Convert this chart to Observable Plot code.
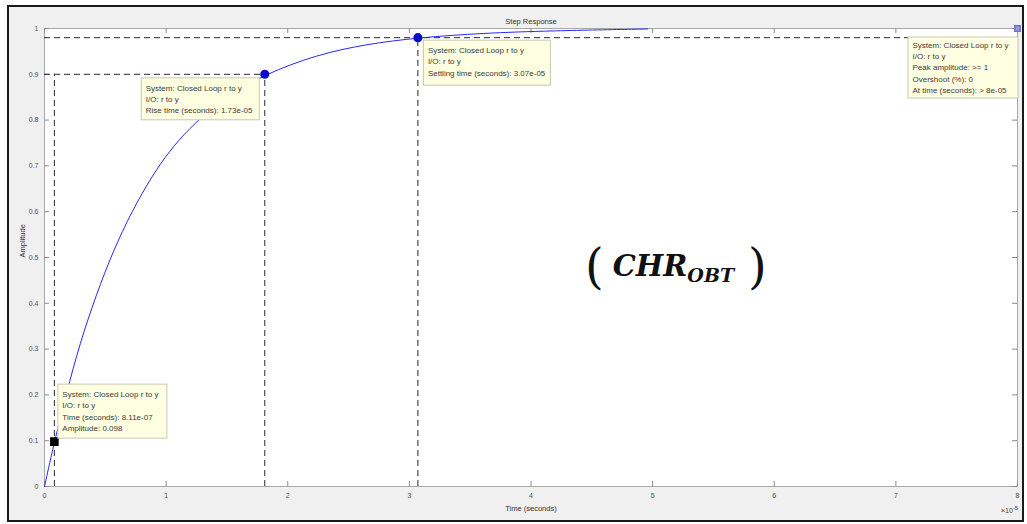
<!DOCTYPE html>
<html>
<head>
<meta charset="utf-8">
<script src="https://cdn.jsdelivr.net/npm/d3@7"></script>
<script src="https://cdn.jsdelivr.net/npm/@observablehq/plot@0.6"></script>
<style>
html, body { margin: 0; padding: 0; background: #fff; }
#wrap { position: relative; width: 1027px; height: 524px; overflow: hidden; font-family: "Liberation Sans", Arial, sans-serif; }
#border { position: absolute; left: 7px; top: 5px; width: 1013px; height: 513px; border: 2px solid #1a1a1a; background: #f0f0f0; }
#chart { position: absolute; left: 0; top: 0; }
#expo { position: absolute; left: 1001px; top: 505px; font-size: 7px; color: #444; }
#expo sup { font-size: 6px; }
#chr { position: absolute; left: 585px; top: 238px; display: flex; align-items: center; color: #111; white-space: nowrap; }
#chr .par { font-family: "DejaVu Serif", serif; font-size: 48px; font-weight: 300; }
#chr .main { font-family: "DejaVu Serif", serif; font-weight: bold; font-style: italic; font-size: 29px; margin-left: 9px; }
#chr .sub { font-family: "DejaVu Serif", serif; font-weight: bold; font-style: italic; font-size: 19px; position: relative; top: 9px; margin-right: 14px; }
</style>
</head>
<body>
<div id="wrap">
  <div id="border"></div>
  <div id="chart"></div>
  <div id="expo">×10<sup>-5</sup></div>
  <div id="chr"><span class="par">(</span><span class="main">CHR</span><span class="sub">OBT</span><span class="par">)</span></div>
</div>
<script>
// Step response (time in units of 1e-5 s)
const timeE5 = [0, 0.0811, 0.21, 0.32, 0.46, 0.60, 0.76, 0.93, 1.06, 1.23, 1.50, 1.811, 2.24, 2.65, 3.07, 3.61, 4.16, 4.96];
const amplitude = [0, 0.098, 0.235, 0.337, 0.444, 0.536, 0.622, 0.697, 0.743, 0.793, 0.853, 0.9, 0.943, 0.966, 0.98, 0.99, 0.995, 0.999];

// Characteristic points
const riseStartT = 0.0811, riseStartA = 0.098;
const riseEndT = 1.811, riseLevel = 0.9;
const settleT = 3.07, settleLevel = 0.98;
const peakT = 8, peakA = 1;

// Axis ticks
const xTicks = [0, 1, 2, 3, 4, 5, 6, 7, 8];
const xTickLabels = ["0", "1", "2", "3", "4", "5", "6", "7", "8"];
const yTicks = [0, 0.1, 0.2, 0.3, 0.4, 0.5, 0.6, 0.7, 0.8, 0.9, 1];
const yTickLabels = ["0", "0.1", "0.2", "0.3", "0.4", "0.5", "0.6", "0.7", "0.8", "0.9", "1"];

// Texts
const titleText = "Step Response";
const xLabel = "Time (seconds)";
const yLabel = "Amplitude";
const tipStart = ["System: Closed Loop r to y", "I/O: r to y", "Time (seconds): 8.11e-07", "Amplitude: 0.098"];
const tipRise = ["System: Closed Loop r to y", "I/O: r to y", "Rise time (seconds): 1.73e-05"];
const tipSettle = ["System: Closed Loop r to y", "I/O: r to y", "Settling time (seconds): 3.07e-05"];
const tipPeak = ["System: Closed Loop r to y", "I/O: r to y", "Peak amplitude: >= 1", "Overshoot (%): 0", "At time (seconds): > 8e-05"];

// ---- layout / style (pixels) ----
const W = 1027, H = 524, ML = 44, MR = 10, MT = 28, MB = 38;
const frameW = W - ML - MR, frameH = H - MT - MB, tick = 5;
const dash = {stroke: "#2a2a2a", strokeWidth: 1, strokeDasharray: "6,4"};
const tickStyle = {stroke: "#8a8a8a", strokeWidth: 1};

// data tip boxes: offsets in pixels from their marker
const tipDefs = [
  {t: riseStartT, a: riseStartA, lines: tipStart,  box: [4, 113, -57, -3], tx: 8,    ty: -47, lh: 11.2},
  {t: riseEndT,   a: riseLevel,  lines: tipRise,   box: [-123, -5, 4, 46], tx: -119, ty: 14,  lh: 11.2},
  {t: settleT,    a: settleLevel, lines: tipSettle, box: [6, 133, 3, 48],  tx: 10,   ty: 13,  lh: 11.2},
  {t: peakT,      a: peakA,      lines: tipPeak,   box: [-109, 1, 9, 70],  tx: -105, ty: 17,  lh: 11.2}
];

const curve = timeE5.map((t, i) => ({t, a: amplitude[i]}));

const tipMarks = tipDefs.flatMap(d => {
  const [l, r, top, bottom] = d.box;
  const pt = [{t: d.t, a: d.a}];
  return [
    Plot.rect(pt, {x1: "t", x2: "t", y1: "a", y2: "a",
      insetLeft: l, insetRight: -r, insetTop: top, insetBottom: -bottom,
      fill: "#ffffe1", stroke: "#c8c8b0", strokeWidth: 1}),
    ...d.lines.map((line, i) => Plot.text(pt, {x: "t", y: "a", text: () => line,
      dx: d.tx, dy: d.ty + i * d.lh, textAnchor: "start", fontSize: 8, fill: "#3a3a3a",
      fontFamily: "Liberation Sans, Arial, sans-serif"}))
  ];
});

const plot = Plot.plot({
  width: W, height: H,
  marginLeft: ML, marginRight: MR, marginTop: MT, marginBottom: MB,
  x: {domain: [0, 8]},
  y: {domain: [0, 1]},
  style: {background: "transparent", fontFamily: "Liberation Sans, Arial, sans-serif", fontSize: "7px", color: "#555"},
  marks: [
    Plot.frame({fill: "white", stroke: "#a8a8a8"}),
    Plot.axisX(xTicks, {anchor: "bottom", tickSize: -tick, tickPadding: 12, stroke: "#8a8a8a", fill: "#555", tickFormat: d => xTickLabels[xTicks.indexOf(d)]}),
    Plot.axisY(yTicks, {anchor: "left", tickSize: -tick, tickPadding: 11, stroke: "#8a8a8a", fill: "#555", tickFormat: d => yTickLabels[yTicks.indexOf(d)]}),
    // inward ticks on the top and right edges of the box
    Plot.tickX(xTicks, {x: d => d, insetBottom: frameH - tick, ...tickStyle}),
    Plot.tickY(yTicks, {y: d => d, insetLeft: frameW - tick, ...tickStyle}),
    // characteristic dashed guides
    Plot.ruleX([{x: riseStartT, y2: riseLevel}, {x: riseEndT, y2: riseLevel}, {x: settleT, y2: settleLevel}], {x: "x", y1: 0, y2: "y2", ...dash}),
    Plot.ruleY([{y: riseLevel, x2: riseEndT}, {y: settleLevel, x2: peakT}], {y: "y", x1: 0, x2: "x2", ...dash}),
    // response
    Plot.line(curve, {x: "t", y: "a", stroke: "#2828f0", strokeWidth: 1, curve: "basis"}),
    // markers
    Plot.dot([{t: riseStartT, a: riseStartA}], {x: "t", y: "a", symbol: "square", r: 4, fill: "#000", stroke: "#000"}),
    Plot.dot([{t: riseEndT, a: riseLevel}, {t: settleT, a: settleLevel}], {x: "t", y: "a", r: 3.8, fill: "#0a0ad0", stroke: "#0a0ad0"}),
    Plot.dot([{t: peakT, a: peakA}], {x: "t", y: "a", symbol: "square", r: 3, fill: "#9a9ae0", stroke: "#7070c0"}),
    // data tips
    ...tipMarks,
    // texts
    Plot.text([titleText], {frameAnchor: "top", dy: -10, fontSize: 7.5, fill: "#333"}),
    Plot.text([xLabel], {frameAnchor: "bottom", dy: 24, fontSize: 7.5, fill: "#333"}),
    Plot.text([yLabel], {frameAnchor: "left", dx: -22, rotate: -90, fontSize: 7.5, fill: "#333"})
  ]
});
document.getElementById("chart").appendChild(plot);
</script>
</body>
</html>
